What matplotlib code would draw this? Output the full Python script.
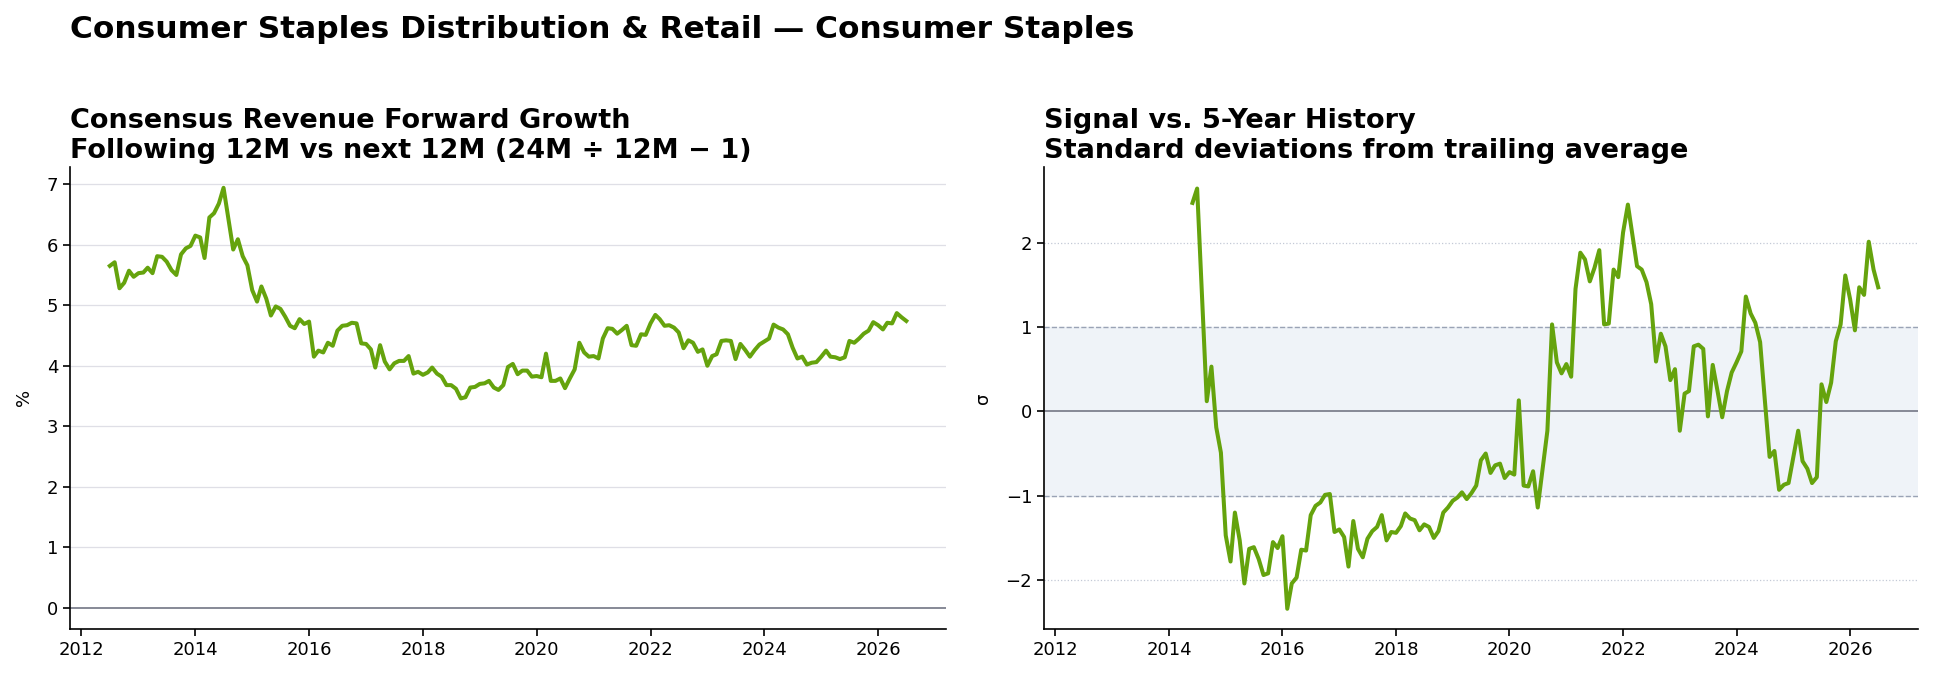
import pandas as pd
import matplotlib
matplotlib.use('Agg')
import matplotlib.pyplot as plt

# Monthly observation dates
start_month = '2012-07-01'
n_months = 169
zscore_start = 23  # first month with enough history for the z-score

# Consensus revenue forward growth (%)
growth = [
    5.65, 5.71, 5.28, 5.37, 5.57, 5.47, 5.53, 5.54, 5.62, 5.53,
    5.81, 5.80, 5.72, 5.58, 5.50, 5.84, 5.94, 5.98, 6.15, 6.12,
    5.78, 6.45, 6.52, 6.68, 6.94, 6.43, 5.92, 6.09, 5.81, 5.66,
    5.25, 5.06, 5.31, 5.11, 4.83, 4.98, 4.94, 4.81, 4.66, 4.62,
    4.77, 4.69, 4.73, 4.15, 4.25, 4.22, 4.38, 4.33, 4.58, 4.66,
    4.67, 4.71, 4.70, 4.37, 4.36, 4.27, 3.97, 4.34,
    4.07, 3.94, 4.04, 4.08, 4.08, 4.16, 3.87, 3.90, 3.85, 3.89,
    3.97, 3.87, 3.82, 3.68, 3.68, 3.62, 3.46, 3.48, 3.64, 3.65,
    3.70, 3.71, 3.75, 3.64, 3.60, 3.68, 3.98, 4.03, 3.86, 3.92,
    3.92, 3.82, 3.83, 3.81, 4.20, 3.75, 3.75, 3.79, 3.63, 3.79,
    3.94, 4.38, 4.22, 4.15, 4.16, 4.12, 4.45, 4.62, 4.61, 4.53,
    4.59, 4.66, 4.34, 4.33, 4.52, 4.51, 4.70, 4.84, 4.77, 4.66, 4.67,
    4.63, 4.55, 4.29, 4.42, 4.38, 4.23, 4.27, 4.00, 4.16, 4.19,
    4.41, 4.42, 4.41, 4.11, 4.36, 4.26, 4.15, 4.26, 4.35, 4.40,
    4.45, 4.68, 4.63, 4.60, 4.52, 4.30, 4.12, 4.15, 4.02, 4.05,
    4.06, 4.15, 4.25, 4.15, 4.14, 4.11, 4.14, 4.41, 4.38, 4.45,
    4.53, 4.58, 4.72, 4.67, 4.60, 4.71, 4.70, 4.87, 4.80, 4.74,
]

# Signal vs 5-year history (standard deviations)
zscore = [
    2.47, 2.64, 1.38, 0.12, 0.53, -0.19, -0.49, -1.47, -1.78, -1.20,
    -1.53, -2.04, -1.63, -1.61, -1.75, -1.94, -1.92, -1.55, -1.62, -1.48,
    -2.34, -2.04, -1.97, -1.64, -1.65, -1.23, -1.12, -1.08, -0.99, -0.98,
    -1.43, -1.40, -1.49, -1.84, -1.30, -1.63, -1.73, -1.51, -1.42, -1.37,
    -1.23, -1.53, -1.43, -1.44, -1.36, -1.21, -1.27, -1.29, -1.41, -1.34,
    -1.37, -1.50, -1.42, -1.20, -1.14, -1.06, -1.02, -0.96, -1.04, -0.97,
    -0.88, -0.58, -0.50, -0.73, -0.64, -0.62, -0.79, -0.72, -0.75, 0.13,
    -0.88, -0.89, -0.71, -1.14, -0.68, -0.23, 1.03, 0.58, 0.45, 0.56,
    0.41, 1.45, 1.88, 1.80, 1.54, 1.70, 1.91, 1.03, 1.04, 1.68,
    1.59, 2.12, 2.45, 2.10, 1.72, 1.68, 1.53, 1.27, 0.59, 0.92,
    0.77, 0.37, 0.50, -0.23, 0.21, 0.24, 0.77, 0.79, 0.74, -0.06,
    0.55, 0.24, -0.07, 0.24, 0.46, 0.58, 0.71, 1.36, 1.16, 1.05,
    0.82, 0.14, -0.54, -0.47, -0.93, -0.87, -0.85, -0.54, -0.23, -0.59,
    -0.68, -0.85, -0.78, 0.32, 0.11, 0.34, 0.83, 1.03, 1.61, 1.33,
    0.96, 1.47, 1.38, 2.01, 1.68, 1.47,
]

suptitle = 'Consumer Staples Distribution & Retail — Consumer Staples'
left_title = 'Consensus Revenue Forward Growth\nFollowing 12M vs next 12M (24M ÷ 12M − 1)'
right_title = 'Signal vs. 5-Year History\nStandard deviations from trailing average'

dates = pd.date_range(start_month, periods=n_months, freq='MS')
z_dates = dates[zscore_start:]

line_color = '#65a30d'
zero_color = '#7d808e'

fig = plt.figure(figsize=(19.34, 6.79), dpi=100)
ax1 = fig.add_axes([0.0362, 0.0736, 0.4530, 0.6810])
ax2 = fig.add_axes([0.5398, 0.0736, 0.4519, 0.6810])

fig.text(0.0362, 0.978, suptitle, ha='left', va='top', fontsize=22.5, fontweight='bold')

# Left panel: forward growth
ax1.plot(dates, growth, color=line_color, lw=2.9, zorder=3)
ax1.axhline(0, color=zero_color, lw=1.3, zorder=2)
for y in range(1, 8):
    ax1.axhline(y, color='#dfdfe6', lw=0.9, zorder=1)
ax1.set_ylim(-0.35, 7.29)
ax1.set_yticks(range(0, 8))
ax1.set_ylabel('%', fontsize=13, labelpad=10)
ax1.set_title(left_title, loc='left', fontsize=19.5, fontweight='bold', pad=6, linespacing=1.2)

# Right panel: z-score
ax2.axhspan(-1, 1, color='#eff3f8', zorder=0)
for y in (-2, 2):
    ax2.axhline(y, color='#c3c9d6', lw=0.9, ls=':', zorder=1)
for y in (-1, 1):
    ax2.axhline(y, color='#9aa3b5', lw=1.0, ls='--', zorder=1)
ax2.axhline(0, color=zero_color, lw=1.3, zorder=2)
ax2.plot(z_dates, zscore, color=line_color, lw=2.9, zorder=3)
ax2.set_ylim(-2.58, 2.90)
ax2.set_yticks([-2, -1, 0, 1, 2])
ax2.set_yticklabels(['−2', '−1', '0', '1', '2'])
ax2.set_ylabel('σ', fontsize=13, labelpad=10)
ax2.set_title(right_title, loc='left', fontsize=19.5, fontweight='bold', pad=6, linespacing=1.2)

xlim = (dates[0] - (dates[-1] - dates[0]) * 0.05, dates[-1] + (dates[-1] - dates[0]) * 0.05)
for ax in (ax1, ax2):
    ax.set_xlim(xlim)
    ax.spines['top'].set_visible(False)
    ax.spines['right'].set_visible(False)
    ax.spines['left'].set_linewidth(1.2)
    ax.spines['bottom'].set_linewidth(1.2)
    ax.tick_params(labelsize=13, width=1.2, length=5)

fig.savefig('out.png', dpi=100)
plt.close(fig)
